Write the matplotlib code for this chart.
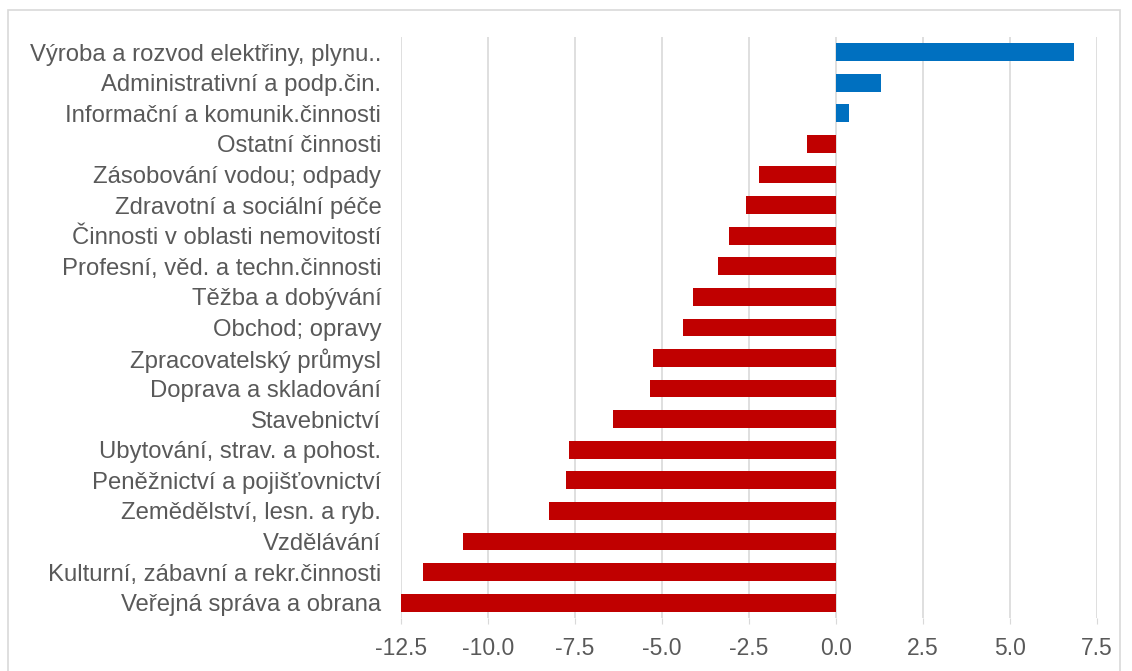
import matplotlib.pyplot as plt
from matplotlib.patches import Rectangle

# categories top to bottom
categories = [
    "Výroba a rozvod elektřiny, plynu..",
    "Administrativní a podp.čin.",
    "Informační a komunik.činnosti",
    "Ostatní činnosti",
    "Zásobování vodou; odpady",
    "Zdravotní a sociální péče",
    "Činnosti v oblasti nemovitostí",
    "Profesní, věd. a techn.činnosti",
    "Těžba a dobývání",
    "Obchod; opravy",
    "Zpracovatelský průmysl",
    "Doprava a skladování",
    "Stavebnictví",
    "Ubytování, strav. a pohost.",
    "Peněžnictví a pojišťovnictví",
    "Zemědělství, lesn. a ryb.",
    "Vzdělávání",
    "Kulturní, zábavní a rekr.činnosti",
    "Veřejná správa a obrana",
]
values = [6.83, 1.29, 0.39, -0.84, -2.22, -2.58, -3.06, -3.39, -4.11, -4.38,
          -5.24, -5.33, -6.39, -7.66, -7.75, -8.23, -10.70, -11.87, -12.49]
xticks = [-12.5, -10.0, -7.5, -5.0, -2.5, 0.0, 2.5, 5.0, 7.5]

plt.rcParams['font.family'] = ['Liberation Sans', 'DejaVu Sans']

fig = plt.figure(figsize=(11.32, 6.71), dpi=100)
ax = fig.add_axes([0.354, 0.079, 0.615, 0.866])

colors = ["#0070C0" if v > 0 else "#C00000" for v in values]
ypos = list(range(len(categories)))
ax.barh(ypos, values, height=0.58, color=colors, zorder=3)

ax.set_ylim(len(categories) - 0.5, -0.5)
ax.set_yticks(ypos)
ax.set_yticklabels(categories, fontsize=17.2, color="#595959")
ax.set_xlim(-12.5, 7.5)
ax.set_xticks(xticks)
ax.set_xticklabels([f"{t:.1f}" for t in xticks], fontsize=16.5, color="#595959")

ax.grid(axis="x", color="#D9D9D9", linewidth=1.2, zorder=0)
ax.tick_params(axis="y", length=0, pad=14)
ax.tick_params(axis="x", length=4, color="#D9D9D9", pad=10)
for s in ax.spines.values():
    s.set_visible(False)

# outer chart border
fig.patches.append(Rectangle((8 / 1132, -0.01), 1112 / 1132, 1 - 10 / 671 + 0.01,
                             transform=fig.transFigure, fill=False,
                             edgecolor="#D9D9D9", linewidth=1.2))

fig.savefig("out.png", dpi=100)
